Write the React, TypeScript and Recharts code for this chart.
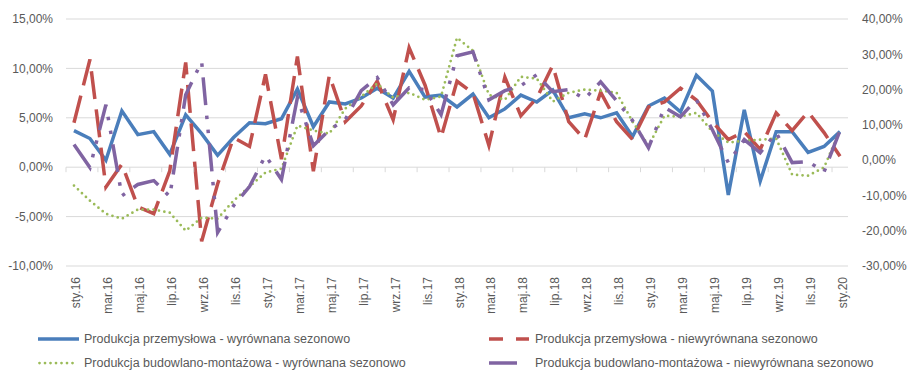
import React from "react";
import { LineChart, Line, XAxis, YAxis, CartesianGrid, Legend } from "recharts";

const months = ["sty", "lut", "mar", "kwi", "maj", "cze", "lip", "sie", "wrz", "paź", "lis", "gru"];
const years = ["16", "17", "18", "19"];
const categories: string[] = [...years.flatMap((y) => months.map((m) => `${m}.${y}`)), "sty.20"];

// przemysł – lewa oś
const przemyslSa = [
  3.7, 2.9, 0.7, 5.7, 3.3, 3.6, 1.3, 5.3, 3.4, 1.2, 3.0, 4.5,
  4.4, 4.9, 7.9, 4.1, 6.6, 6.4, 7.0, 8.0, 7.0, 9.7, 7.1, 7.3,
  6.1, 7.4, 5.0, 5.9, 7.3, 6.6, 7.8, 5.0, 5.4, 5.0, 5.5, 3.1,
  6.2, 7.0, 5.6, 9.3, 7.7, -2.8, 5.8, -1.4, 3.6, 3.6, 1.5, 2.1,
  3.6,
];
const przemyslNsa = [
  4.5, 10.9, -2.0, 0.3, -4.0, -4.7, -0.4, 10.6, -7.5, -1.7, 3.0, 2.1,
  9.4, 0.8, 11.2, -0.4, 9.3, 4.6, 6.2, 8.7, 4.8, 12.1, 8.3, 3.0,
  8.7, 7.5, 2.2, 9.1, 5.2, 7.0, 10.3, 4.6, 2.8, 7.6, 4.6, 2.8,
  6.1, 6.6, 8.0, 6.8, 4.6, 2.8, 3.6, 1.8, 5.5, 3.7, 5.6, 3.5,
  1.1,
];
// budownictwo – prawa oś
const budowlanaSa = [
  -7.2, -11.5, -15.2, -16.6, -14.0, -14.0, -14.9, -20.0, -16.3, -16.6, -11.5, -7.5,
  -3.5, -2.4, 9.8, 8.4, 7.5, 14.6, 18.0, 21.7, 17.7, 19.1, 17.1, 18.0,
  34.7, 31.0, 18.5, 17.1, 23.6, 23.1, 16.6, 19.1, 20.0, 19.7, 19.1, 10.9,
  4.1, 12.6, 12.3, 13.4, 8.1, 5.0, 5.5, 5.8, 6.1, -4.1, -4.4, -2.1,
  8.6,
];
const budowlanaNsa = [
  4.4, -2.1, 15.7, -10.1, -6.9, -5.8, -10.3, 18.5, 27.9, -20.5, -12.9, -7.5,
  1.3, -5.5, 17.7, 4.1, 8.6, 11.5, 19.7, 23.4, 15.7, 20.5, 20.0, 12.9,
  29.6, 30.7, 17.1, 19.7, 21.1, 24.2, 19.4, 20.0, 17.4, 22.2, 16.8, 11.2,
  3.5, 14.9, 12.3, 17.1, 8.6, -0.7, 5.8, 2.1, 7.8, -0.7, -0.4, -3.3,
  8.4,
];

const leftTicks = [-10, -5, 0, 5, 10, 15];
const rightTicks = [-30, -20, -10, 0, 10, 20, 30, 40];

const data = categories.map((c, i) => ({
  name: c,
  ps: przemyslSa[i],
  pn: przemyslNsa[i],
  bs: budowlanaSa[i],
  bn: budowlanaNsa[i],
}));

const W = 909;
const H = 371;
const TOP = 19;
const PLOT_H = 247;
const LEFT_W = 66;
const RIGHT_W = 61;
const BAND = (W - LEFT_W - RIGHT_W) / categories.length;
const ZERO_Y = TOP + (PLOT_H * 15) / 25;

const FONT = "'Liberation Sans', Arial, sans-serif";
const GREY = "#595959";

const pct = (v: number) => `${v.toFixed(2).replace(".", ",")}%`;

const XTick = (props: any) => {
  const { x, y, payload } = props;
  const bx = x - BAND / 2;
  return (
    <g>
      <line x1={bx} x2={bx} y1={ZERO_Y} y2={ZERO_Y + 5} stroke="#d9d9d9" />
      <text
        transform={`translate(${x + 6.5},${y + 11}) rotate(-90)`}
        textAnchor="end"
        fill={GREY}
        fontSize={12}
        fontFamily={FONT}
      >
        {payload.value}
      </text>
    </g>
  );
};

const legendItems = [
  { label: "Produkcja przemysłowa - wyrównana sezonowo", color: "#4a7ebb", dash: undefined, x: 38, row: 0, len: 41, w: 3.5, cap: "butt" },
  { label: "Produkcja przemysłowa - niewyrównana sezonowo", color: "#c0504d", dash: "14 13", x: 489, row: 0, len: 40, w: 3.5, cap: "butt" },
  { label: "Produkcja budowlano-montażowa - wyrównana sezonowo", color: "#9bbb59", dash: "0 5.5", x: 38, row: 1, len: 40, w: 2.75, cap: "round" },
  { label: "Produkcja budowlano-montażowa - niewyrównana sezonowo", color: "#8064a2", dash: undefined, x: 489, row: 1, len: 28, w: 3.5, cap: "butt" },
];

const renderLegend = () => (
  <div style={{ position: "relative", width: W, height: 46 }}>
    {legendItems.map((it) => (
      <div
        key={it.label}
        style={{
          position: "absolute",
          left: it.x,
          top: it.row * 24 + 4,
          height: 20,
          display: "flex",
          alignItems: "center",
          whiteSpace: "nowrap",
        }}
      >
        <svg width={46} height={20} style={{ display: "block" }}>
          <line
            x1={it.cap === "round" ? 1.5 : 0}
            x2={it.len}
            y1={10}
            y2={10}
            stroke={it.color}
            strokeWidth={it.w}
            strokeDasharray={it.dash}
            strokeLinecap={it.cap as any}
          />
        </svg>
        <span style={{ fontFamily: FONT, fontSize: 12.5, color: GREY }}>{it.label}</span>
      </div>
    ))}
  </div>
);

export default function App() {
  return (
    <div style={{ position: "absolute", left: 0, top: 0, width: W, height: H, background: "#fff" }}>
      <LineChart width={W} height={H} data={data} margin={{ top: TOP, right: 0, bottom: H - TOP - PLOT_H - 60, left: 0 }}>
        <CartesianGrid yAxisId="left" vertical={false} stroke="#d9d9d9" />
        <XAxis
          dataKey="name"
          scale="band"
          interval={1}
          height={60}
          axisLine={false}
          tickLine={false}
          tickSize={0}
          tickMargin={0}
          tick={<XTick />}
        />
        <YAxis
          yAxisId="left"
          domain={[-10, 15]}
          ticks={leftTicks}
          width={LEFT_W}
          axisLine={false}
          tickLine={false}
          tickSize={0}
          tickMargin={13}
          tickFormatter={pct}
          tick={{ fill: GREY, fontSize: 12, fontFamily: FONT }}
        />
        <YAxis
          yAxisId="right"
          orientation="right"
          domain={[-30, 40]}
          ticks={rightTicks}
          width={RIGHT_W}
          axisLine={false}
          tickLine={false}
          tickSize={0}
          tickMargin={14}
          tickFormatter={pct}
          tick={{ fill: GREY, fontSize: 12, fontFamily: FONT, textAnchor: "start" }}
        />
        <Legend
          layout="horizontal"
          verticalAlign="middle"
          align="center"
          content={renderLegend}
          wrapperStyle={{ top: 325, left: 0, width: W, height: 46 }}
        />
        <Line yAxisId="left" dataKey="ps" stroke="#4a7ebb" strokeWidth={3.5} dot={false} activeDot={false} isAnimationActive={false} />
        <Line
          yAxisId="left"
          dataKey="pn"
          stroke="#c0504d"
          strokeWidth={3.5}
          strokeDasharray="28 10.5"
          dot={false}
          activeDot={false}
          isAnimationActive={false}
        />
        <Line
          yAxisId="right"
          dataKey="bs"
          stroke="#9bbb59"
          strokeWidth={2.75}
          strokeDasharray="0 5.5"
          strokeLinecap="round"
          dot={false}
          activeDot={false}
          isAnimationActive={false}
        />
        <Line
          yAxisId="right"
          dataKey="bn"
          stroke="#8064a2"
          strokeWidth={3.5}
          strokeDasharray="28 10.5 3.5 10.5 3.5 10.5"
          dot={false}
          activeDot={false}
          isAnimationActive={false}
        />
      </LineChart>
    </div>
  );
}
